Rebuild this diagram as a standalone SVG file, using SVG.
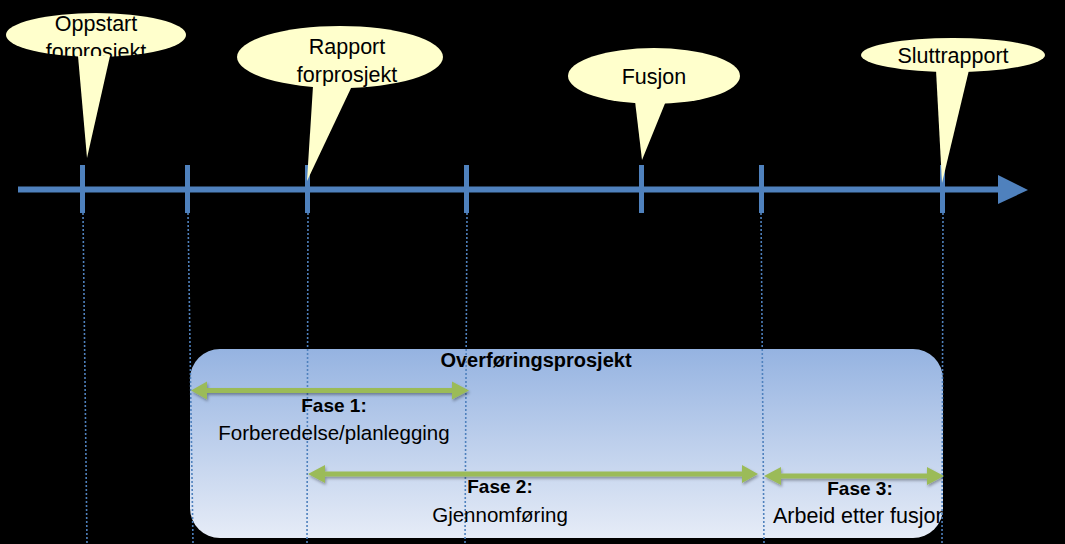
<svg xmlns="http://www.w3.org/2000/svg" width="1065" height="544" viewBox="0 0 1065 544">
<style>
.txt{font-family:"Liberation Sans",Arial,sans-serif;fill:#000;text-anchor:middle}
.call{font-size:21.5px}
.bold{font-weight:bold;font-size:19px}
.title{font-weight:bold;font-size:20px}
.reg{font-size:20.5px}
.bubble{fill:#ffffcc}
.tick{fill:#4f81bd}
.dot{stroke:#4f81bd;stroke-width:1.6;stroke-dasharray:2 2;fill:none}
.green{fill:#9bbb59}
</style>
<defs>
<linearGradient id="boxg" x1="0" y1="0" x2="0" y2="1">
<stop offset="0" stop-color="#95b3e1"/>
<stop offset="1" stop-color="#e6ecf7"/>
</linearGradient>
<filter id="sh" x="-5%" y="-50%" width="110%" height="200%">
<feDropShadow dx="1" dy="2" stdDeviation="1.5" flood-color="#000" flood-opacity="0.35"/>
</filter>
<clipPath id="boxclip">
<rect x="190" y="349" width="753" height="189" rx="30" ry="30"/>
</clipPath>
</defs>
<rect width="1065" height="544" fill="#000"/>

<g id="project-box">
<rect x="190" y="349" width="753" height="189" rx="30" ry="30" fill="url(#boxg)"/>
<text class="txt title" x="536" y="367">Overføringsprosjekt</text>
</g>

<g id="connectors">
<line class="dot" x1="83" y1="213" x2="87" y2="544"/>
<line class="dot" x1="188" y1="213" x2="193" y2="544"/>
<line class="dot" x1="308" y1="213" x2="307" y2="544"/>
<line class="dot" x1="467" y1="213" x2="465" y2="544"/>
<line class="dot" x1="761" y1="213" x2="764" y2="544"/>
<line class="dot" x1="943" y1="213" x2="942" y2="544"/>
<line x1="18" y1="189.5" x2="1000" y2="189.5" stroke="#4f81bd" stroke-width="6"/>
<polygon class="tick" points="998,175 1028,190 998,204"/>
</g>

<g id="ticks">
<rect class="tick" x="80" y="165" width="5" height="48"/>
<rect class="tick" x="185" y="165" width="5" height="48"/>
<rect class="tick" x="305" y="165" width="5" height="48"/>
<rect class="tick" x="464" y="165" width="5" height="48"/>
<rect class="tick" x="639" y="165" width="5" height="48"/>
<rect class="tick" x="759" y="165" width="5" height="48"/>
<rect class="tick" x="940" y="165" width="5" height="48"/>
</g>

<g id="callout-oppstart">
<ellipse class="bubble" cx="96" cy="35" rx="90" ry="22"/>
<text class="txt call" x="96" y="31">Oppstart</text>
<text class="txt call" x="96" y="59">forprosjekt</text>
<polygon class="bubble" points="78,56 110,56 87,158"/>
</g>

<g id="callout-rapport">
<ellipse class="bubble" cx="340" cy="57" rx="103" ry="31"/>
<text class="txt call" x="347" y="54">Rapport</text>
<text class="txt call" x="347" y="82">forprosjekt</text>
<polygon class="bubble" points="313,86 352,86 307,181"/>
</g>

<g id="callout-fusjon">
<ellipse class="bubble" cx="654" cy="76" rx="86" ry="28"/>
<text class="txt call" x="654" y="84">Fusjon</text>
<polygon class="bubble" points="635,101 666,101 642,160"/>
</g>

<g id="callout-sluttrapport">
<ellipse class="bubble" cx="953" cy="55" rx="92" ry="17"/>
<text class="txt call" x="953" y="63">Sluttrapport</text>
<polygon class="bubble" points="936,70 969,70 942,183"/>
</g>

<g id="fase1">
<polygon class="green" filter="url(#sh)" points="191,390.5 207,381.5 207,388 452,388 452,381.5 469,390.5 452,399.5 452,393 207,393 207,399.5"/>
<text class="txt bold" x="334" y="412">Fase 1:</text>
<text class="txt reg" x="334" y="440">Forberedelse/planlegging</text>
</g>

<g id="fase2">
<polygon class="green" filter="url(#sh)" points="308,474 325,465 325,471.5 742,471.5 742,465 758,474 742,483 742,476.5 325,476.5 325,483"/>
<text class="txt bold" x="500" y="493">Fase 2:</text>
<text class="txt reg" x="500" y="522">Gjennomføring</text>
</g>

<g id="fase3">
<polygon class="green" filter="url(#sh)" points="764,476 781,467 781,473.5 927,473.5 927,467 944,476 927,485 927,478.5 781,478.5 781,485"/>
<text class="txt bold" x="860" y="495">Fase 3:</text>
<text class="txt reg" x="773" y="523" style="text-anchor:start;font-size:21.5px" clip-path="url(#boxclip)">Arbeid etter fusjon</text>
</g>
</svg>
